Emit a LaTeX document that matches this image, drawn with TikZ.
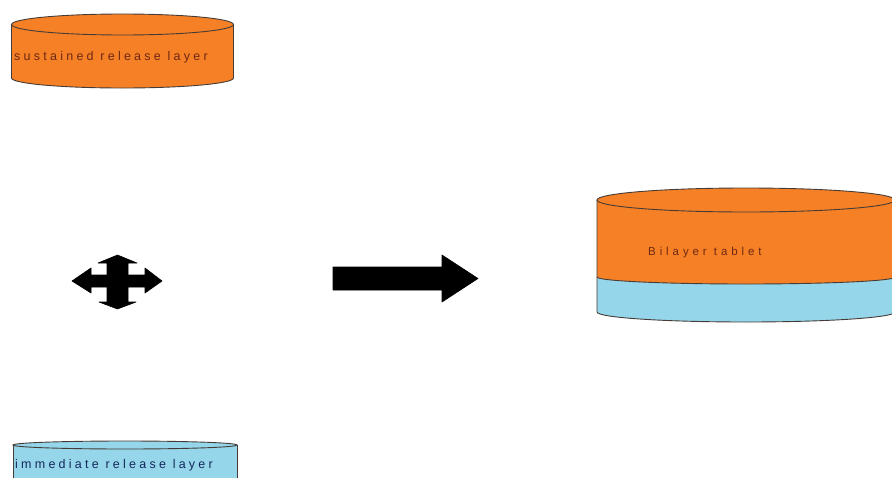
\documentclass[tikz,border=0pt]{standalone}
\usepackage{fontspec}
\setmainfont{Liberation Sans}
\newfontfamily\spacedA[LetterSpace=26]{Liberation Sans}
\newfontfamily\spacedB[LetterSpace=34]{Liberation Sans}
\definecolor{tabor}{RGB}{245,128,38}
\definecolor{tabbl}{RGB}{150,214,234}
\definecolor{rim}{RGB}{70,60,55}
\definecolor{txtred}{RGB}{110,40,20}
\definecolor{txtblue}{RGB}{20,40,90}
\begin{document}
\begin{tikzpicture}[x=1pt,y=-1pt,
  rimline/.style={draw=rim,line width=0.9pt},
  blackarrow/.style={fill=black,draw=black,line width=0.6pt,line join=round}]
\useasboundingbox (0,0) rectangle (892,477);
\clip (0,0) rectangle (892,477);
% sustained release layer cylinder
\fill[tabor] (11.5,24.5) -- (11.5,78) arc[start angle=180,end angle=0,x radius=111,y radius=10] -- (233.5,24.5) -- cycle;
\draw[rimline] (11.5,24.5) -- (11.5,78) arc[start angle=180,end angle=0,x radius=111,y radius=10] -- (233.5,24.5);
\filldraw[rimline,fill=tabor] (122.5,24.5) ellipse[x radius=111,y radius=10.5];
\node[text=txtred,font=\spacedA\fontsize{12.5}{14}\selectfont,anchor=west,inner sep=0pt] (sus) at (14,57) {sustained release layer};
% immediate release layer cylinder
\fill[tabbl] (13,445) rectangle (237,480);
\draw[rimline] (13,480) -- (13,445);
\draw[rimline] (237,480) -- (237,445);
\filldraw[rimline,fill=tabbl] (125,445) ellipse[x radius=112,y radius=4];
\node[text=txtblue,font=\spacedA\fontsize{12.5}{14}\selectfont,anchor=west,inner sep=0pt] (imm) at (15,465) {immediate release layer};
% four-way arrow
\draw[blackarrow] (117.5,255) -- (137,263) -- (128,263) -- (128,275) -- (145,275) -- (145,268) -- (162,281) -- (145,293) -- (145,287) -- (128,287) -- (128,302) -- (136,302) -- (117.5,309) -- (99,302) -- (107,302) -- (107,287) -- (91,287) -- (91,293) -- (72,281) -- (91,268) -- (91,275) -- (107,275) -- (107,263) -- (98,263) -- cycle;
\coordinate (four) at (117.5,281);
% right arrow
\draw[blackarrow] (333,267) -- (442,267) -- (442,255) -- (478,278.5) -- (442,302) -- (442,290) -- (333,290) -- cycle;
\coordinate (rarr) at (405,278);
% bilayer tablet
\fill[tabbl] (597,277) -- (597,312) arc[start angle=180,end angle=0,x radius=149,y radius=10] -- (895,277) -- cycle;
\fill[tabor] (597,200) -- (597,277) arc[start angle=180,end angle=0,x radius=149,y radius=7] -- (895,200) -- cycle;
\draw[rimline] (597,200) -- (597,312) arc[start angle=180,end angle=0,x radius=149,y radius=10] -- (895,200);
\draw[rimline] (597,277) arc[start angle=180,end angle=0,x radius=149,y radius=7];
\filldraw[rimline,fill=tabor] (746,200) ellipse[x radius=149,y radius=12];
\node[text=txtred,font=\spacedB\fontsize{11.5}{13}\selectfont,anchor=west,inner sep=0pt] (bil) at (648,253) {Bilayer tablet};
\end{tikzpicture}
\end{document}
